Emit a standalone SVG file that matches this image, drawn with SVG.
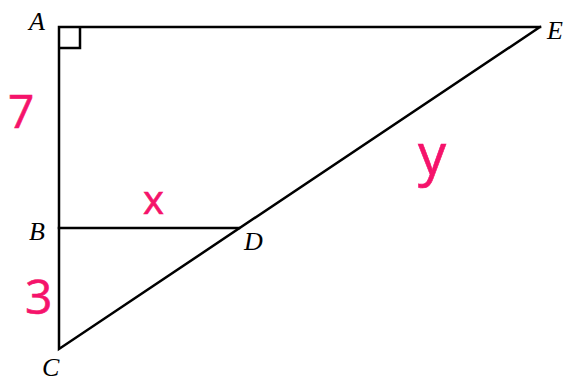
<svg xmlns="http://www.w3.org/2000/svg" width="566" height="381" viewBox="0 0 566 381">
<style>
.ln{stroke:#000;stroke-width:2.5;fill:none;stroke-linecap:square}
.lbl{font-family:"Liberation Serif",serif;font-style:italic;font-size:26px;fill:#000}
.hw{font-family:"Open Sans","Liberation Sans",sans-serif;fill:#f5136b;stroke:#f5136b;stroke-width:0.6}
</style>
<rect width="566" height="381" fill="#fff"/>
<g id="lines">
<polyline class="ln" points="540,27 59,27 59,349 540,27"/>
<line class="ln" x1="59" y1="228" x2="239" y2="228"/>
<polyline class="ln" points="59,48 80,48 80,27" style="stroke-linecap:butt"/>
</g>
<g id="A"><text class="lbl" x="29" y="30">A</text></g>
<g id="E"><text class="lbl" x="547" y="39">E</text></g>
<g id="B"><text class="lbl" x="29" y="240">B</text></g>
<g id="D"><text class="lbl" x="244" y="250">D</text></g>
<g id="C"><text class="lbl" x="42" y="376">C</text></g>
<g id="lbl7"><text class="hw" x="8" y="128" font-size="46">7</text></g>
<g id="lbl3"><text class="hw" x="25" y="314" font-size="48">3</text></g>
<g id="lblx"><text class="hw" x="143" y="214" font-size="40">x</text></g>
<g id="lbly"><text class="hw" x="418" y="174" font-size="56">y</text></g>
</svg>
